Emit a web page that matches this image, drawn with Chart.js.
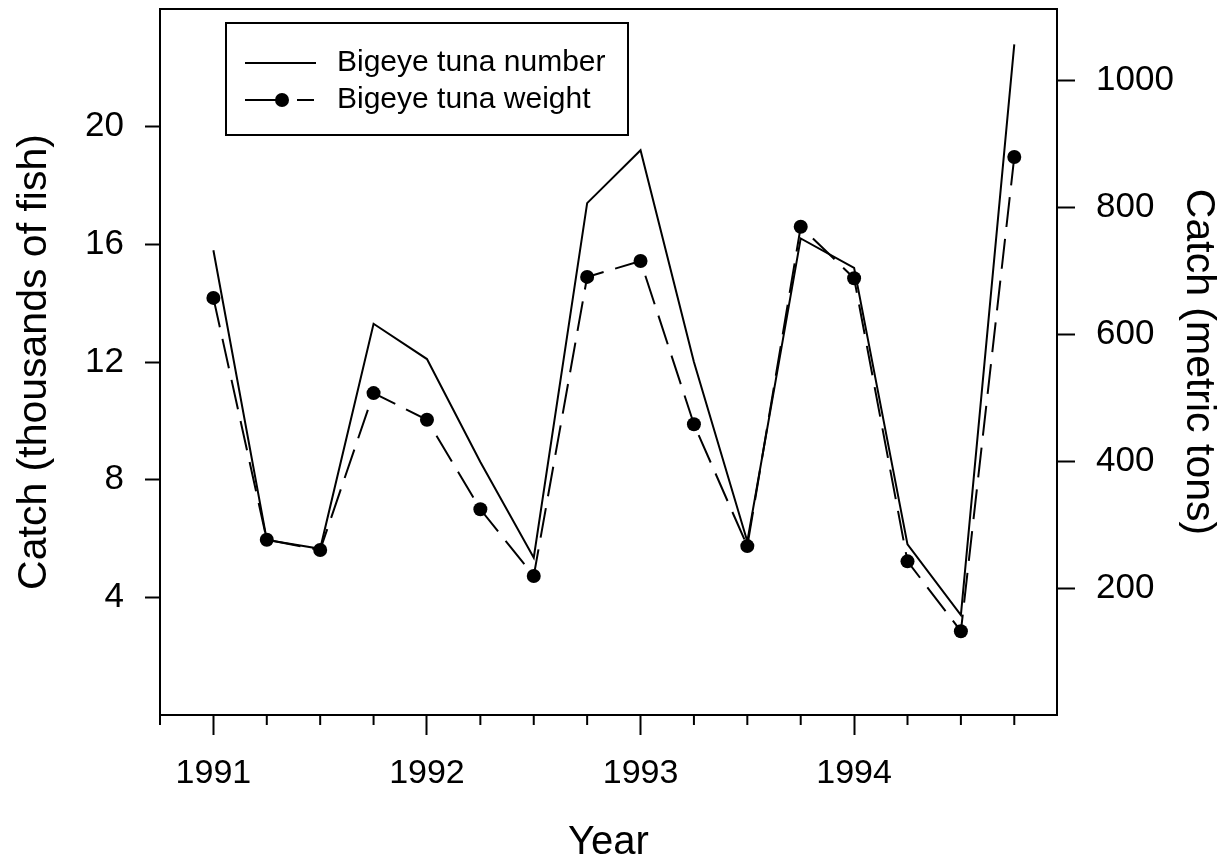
<!DOCTYPE html>
<html>
<head>
<meta charset="utf-8">
<script src="https://cdn.jsdelivr.net/npm/chart.js@4.4.0/dist/chart.umd.min.js"></script>
<style>
  html, body { margin: 0; padding: 0; background: #fff; }
</style>
</head>
<body>
<canvas id="chart" width="1227" height="861"></canvas>
<script>
// quarterly observations
const quarters = [1991.0, 1991.25, 1991.5, 1991.75, 1992.0, 1992.25, 1992.5, 1992.75,
                  1993.0, 1993.25, 1993.5, 1993.75, 1994.0, 1994.25, 1994.5, 1994.75];
const numberCatch = [15.8, 5.95, 5.65, 13.3, 12.1, 8.6, 5.35, 17.4, 19.2, 12.0, 5.9, 16.2, 15.2, 5.8, 3.4, 22.8];
const weightCatch = [657, 276, 260, 507, 465, 324, 219, 690, 715, 458, 266, 769, 688, 242, 132, 879];

const xTicks = [1990.75, 1991.0, 1991.25, 1991.5, 1991.75, 1992.0, 1992.25, 1992.5, 1992.75,
                1993.0, 1993.25, 1993.5, 1993.75, 1994.0, 1994.25, 1994.5, 1994.75];
const yearTicks = [1991, 1992, 1993, 1994];
const leftTicks = [4, 8, 12, 16, 20];
const rightTicks = [200, 400, 600, 800, 1000];

const seriesNames = ["Bigeye tuna number", "Bigeye tuna weight"];

const FONT = "'Liberation Sans', Arial, Helvetica, sans-serif";
const isYear = v => yearTicks.some(y => Math.abs(y - v) < 1e-6);

// no extra room for the end labels, the frame is fixed
const noPad = s => { s.paddingTop = 0; s.paddingBottom = 0; s.paddingLeft = 0; s.paddingRight = 0; };

// frame top edge, minor x ticks and the boxed legend
const extrasPlugin = {
  id: "extras",
  afterDraw(chart) {
    const { ctx, chartArea: a, scales } = chart;
    const x = scales.x;
    ctx.save();
    ctx.strokeStyle = "#000";
    ctx.lineWidth = 2;

    ctx.beginPath();
    ctx.moveTo(a.left - 1, a.top);
    ctx.lineTo(a.right + 1, a.top);
    ctx.stroke();

    xTicks.forEach(v => {
      if (isYear(v)) return;
      const px = x.getPixelForValue(v);
      ctx.beginPath();
      ctx.moveTo(px, a.bottom);
      ctx.lineTo(px, a.bottom + 10);
      ctx.stroke();
    });

    // legend
    const lx = a.left + 66, ly = a.top + 14, lw = 402, lh = 112;
    ctx.strokeRect(lx, ly, lw, lh);
    const r1 = ly + 40, r2 = ly + 77;
    ctx.beginPath();
    ctx.moveTo(lx + 19, r1); ctx.lineTo(lx + 90, r1);
    ctx.stroke();
    ctx.beginPath();
    ctx.moveTo(lx + 19, r2); ctx.lineTo(lx + 55, r2);
    ctx.moveTo(lx + 71, r2); ctx.lineTo(lx + 88, r2);
    ctx.stroke();
    ctx.beginPath();
    ctx.arc(lx + 56, r2, 7, 0, Math.PI * 2);
    ctx.fillStyle = "#000";
    ctx.fill();

    ctx.font = "30px " + FONT;
    ctx.textBaseline = "middle";
    ctx.textAlign = "left";
    ctx.fillText(seriesNames[0], lx + 111, r1);
    ctx.fillText(seriesNames[1], lx + 111, r2);
    ctx.restore();
  }
};

new Chart(document.getElementById("chart"), {
  type: "line",
  data: {
    datasets: [
      {
        label: seriesNames[0],
        data: quarters.map((q, i) => ({ x: q, y: numberCatch[i] })),
        yAxisID: "y",
        borderColor: "#000",
        borderWidth: 2,
        pointRadius: 0,
        tension: 0,
        fill: false
      },
      {
        label: seriesNames[1],
        data: quarters.map((q, i) => ({ x: q, y: weightCatch[i] })),
        yAxisID: "y1",
        borderColor: "#000",
        borderWidth: 2,
        borderDash: [30, 12],
        pointRadius: 7,
        pointBackgroundColor: "#000",
        pointBorderColor: "#000",
        pointBorderWidth: 0,
        tension: 0,
        fill: false
      }
    ]
  },
  options: {
    responsive: false,
    animation: false,
    devicePixelRatio: 1,
    layout: { padding: { top: 9, left: 0, right: 0, bottom: 0 } },
    plugins: {
      legend: { display: false },
      tooltip: { enabled: false }
    },
    scales: {
      x: {
        type: "linear",
        min: 1990.75,
        max: 1994.95,
        afterBuildTicks: s => { s.ticks = xTicks.map(v => ({ value: v })); },
        afterFit: s => { s.height = 146; noPad(s); },
        ticks: {
          autoSkip: false,
          maxRotation: 0,
          padding: 18,
          color: "#000",
          font: { family: FONT, size: 34 },
          callback: v => (isYear(v) ? String(Math.round(v)) : "")
        },
        grid: {
          drawOnChartArea: false,
          tickLength: 20,
          tickWidth: 2,
          tickColor: c => (c.tick && isYear(c.tick.value) ? "#000" : "rgba(0,0,0,0)")
        },
        border: { display: true, color: "#000", width: 2 },
        title: {
          display: true,
          text: "Year",
          color: "#000",
          font: { family: FONT, size: 40 },
          padding: { top: 0, bottom: -6 }
        }
      },
      y: {
        position: "left",
        min: 0,
        max: 24,
        afterBuildTicks: s => { s.ticks = leftTicks.map(v => ({ value: v })); },
        afterFit: s => { s.width = 160; noPad(s); },
        ticks: {
          padding: 21,
          color: "#000",
          font: { family: FONT, size: 35 },
          callback: v => String(v)
        },
        grid: { drawOnChartArea: false, tickLength: 15, tickWidth: 2, tickColor: "#000" },
        border: { display: true, color: "#000", width: 2 },
        title: {
          display: true,
          text: "Catch (thousands of fish)",
          color: "#000",
          font: { family: FONT, size: 41 },
          padding: { top: 10, bottom: 0 }
        }
      },
      y1: {
        position: "right",
        min: 0,
        max: 1112,
        afterBuildTicks: s => { s.ticks = rightTicks.map(v => ({ value: v })); },
        afterFit: s => { s.width = 170; noPad(s); },
        ticks: {
          padding: 21,
          color: "#000",
          font: { family: FONT, size: 35 },
          callback: v => String(v)
        },
        grid: { drawOnChartArea: false, tickLength: 18, tickWidth: 2, tickColor: "#000" },
        border: { display: true, color: "#000", width: 2 },
        title: {
          display: true,
          text: "Catch (metric tons)",
          color: "#000",
          font: { family: FONT, size: 41 },
          padding: { top: 4, bottom: 0 }
        }
      }
    }
  },
  plugins: [extrasPlugin]
});
</script>
</body>
</html>
